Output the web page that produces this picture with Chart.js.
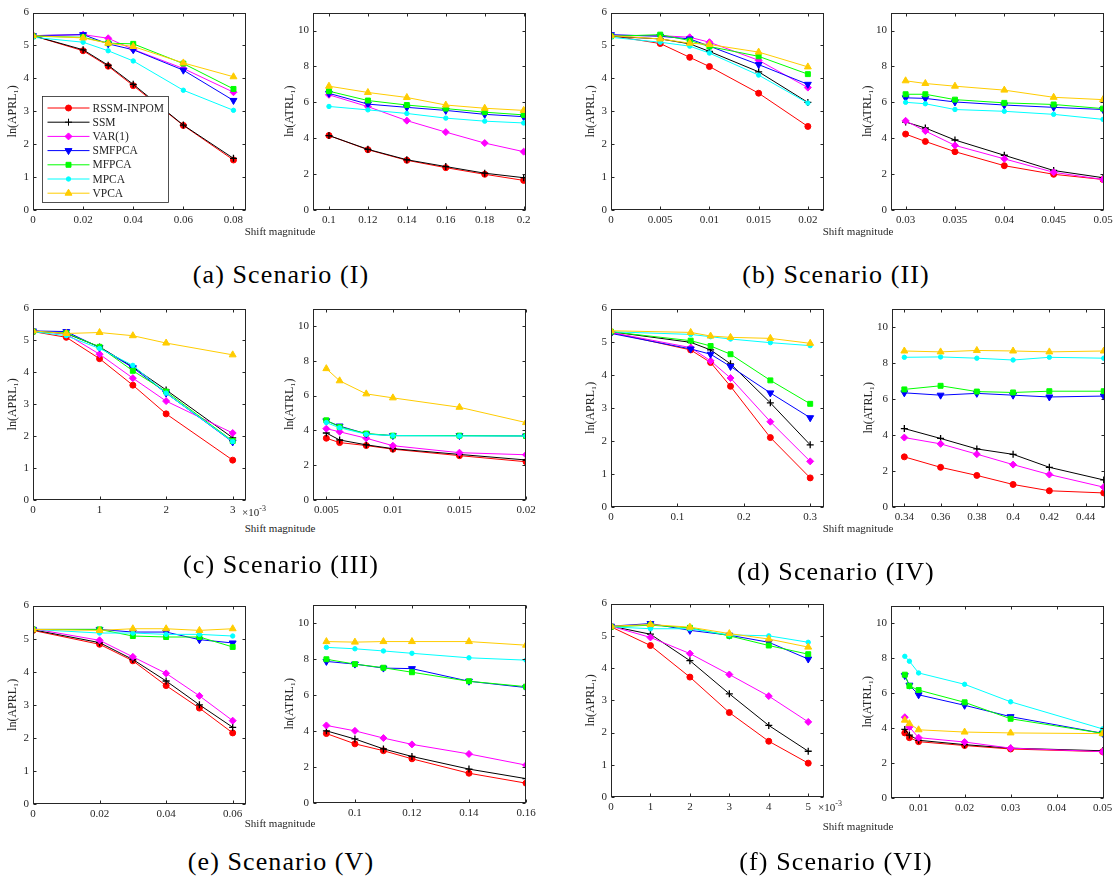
<!DOCTYPE html>
<html>
<head>
<meta charset="utf-8">
<script src="https://cdn.jsdelivr.net/npm/chart.js@4.4.1/dist/chart.umd.min.js"></script>
<style>
body { margin: 0; background: #fff; }
#page { position: relative; width: 1117px; height: 888px; overflow: hidden; font-family: 'Liberation Serif', serif; color: #262626; }
#page canvas { position: absolute; }
.xl { position: absolute; font-size: 11px; transform: translateX(-50%); white-space: nowrap; line-height: 1; }
.mult { position: absolute; font-size: 11px; white-space: nowrap; line-height: 1; }
.mult sup { font-size: 8px; }
.cap { position: absolute; font-size: 26px; letter-spacing: 1.1px; color: #000; transform: translateX(-50%); white-space: nowrap; line-height: 1; }
</style>
</head>
<body>
<div id="page"></div>
<script>
const methods = ['RSSM-INPOM', 'SSM', 'VAR(1)', 'SMFPCA', 'MFPCA', 'MPCA', 'VPCA'];
const colors = ['#ff0000', '#000000', '#ff00ff', '#0000ff', '#00ff00', '#00ffff', '#ffcc00'];
const markers = ['circle', 'cross', 'rectRot', 'triangle', 'rect', 'circle', 'triangle'];
const markerRot = [0, 0, 0, 180, 0, 0, 0];
const markerSize = [3, 3.5, 3.5, 4, 3.5, 2.2, 4];

const aprlTicks = [0, 1, 2, 3, 4, 5, 6];
const atrlTicks = [0, 2, 4, 6, 8, 10];

// Scenario (I)
const s1ShiftL = [0, 0.02, 0.03, 0.04, 0.06, 0.08];
const s1Aprl = [
  [5.30, 4.84, 4.37, 3.78, 2.57, 1.52],
  [5.30, 4.87, 4.40, 3.82, 2.58, 1.57],
  [5.30, 5.33, 5.22, 4.88, 4.30, 3.58],
  [5.30, 5.33, 5.05, 4.87, 4.25, 3.33],
  [5.28, 5.25, 5.07, 5.05, 4.45, 3.68],
  [5.25, 5.10, 4.84, 4.53, 3.64, 3.03],
  [5.30, 5.23, 5.07, 4.97, 4.47, 4.05]
];
const s1TicksL = [0, 0.02, 0.04, 0.06, 0.08];
const s1LabelsL = ['0', '0.02', '0.04', '0.06', '0.08'];
const s1ShiftR = [0.1, 0.12, 0.14, 0.16, 0.18, 0.2];
const s1Atrl = [
  [4.15, 3.36, 2.77, 2.36, 1.99, 1.65],
  [4.15, 3.38, 2.80, 2.42, 2.05, 1.80],
  [6.42, 5.76, 4.98, 4.34, 3.73, 3.25],
  [6.50, 5.90, 5.72, 5.55, 5.33, 5.20],
  [6.62, 6.10, 5.85, 5.65, 5.45, 5.30],
  [5.77, 5.58, 5.38, 5.12, 4.95, 4.85],
  [6.90, 6.55, 6.27, 5.85, 5.67, 5.55]
];
const s1TicksR = [0.1, 0.12, 0.14, 0.16, 0.18, 0.2];
const s1LabelsR = ['0.1', '0.12', '0.14', '0.16', '0.18', '0.2'];

// Scenario (II)
const s2ShiftL = [0, 0.005, 0.008, 0.01, 0.015, 0.02];
const s2Aprl = [
  [5.30, 5.06, 4.64, 4.36, 3.55, 2.54],
  [5.28, 5.20, 5.05, 4.82, 4.20, 3.27],
  [5.30, 5.30, 5.25, 5.10, 4.55, 3.72],
  [5.33, 5.28, 5.20, 4.98, 4.42, 3.82],
  [5.28, 5.33, 5.15, 4.97, 4.67, 4.13],
  [5.25, 5.10, 4.98, 4.77, 4.10, 3.25],
  [5.30, 5.20, 5.07, 5.03, 4.80, 4.35]
];
const s2TicksL = [0, 0.005, 0.01, 0.015, 0.02];
const s2LabelsL = ['0', '0.005', '0.01', '0.015', '0.02'];
const s2ShiftR = [0.03, 0.032, 0.035, 0.04, 0.045, 0.05];
const s2Atrl = [
  [4.23, 3.82, 3.25, 2.47, 1.99, 1.70],
  [4.90, 4.57, 3.90, 3.05, 2.20, 1.80],
  [4.97, 4.40, 3.60, 2.85, 2.10, 1.70],
  [6.25, 6.22, 6.02, 5.85, 5.72, 5.60],
  [6.45, 6.45, 6.15, 5.97, 5.88, 5.65],
  [6.00, 5.92, 5.60, 5.50, 5.33, 5.05],
  [7.20, 7.05, 6.90, 6.68, 6.28, 6.15]
];
const s2TicksR = [0.03, 0.035, 0.04, 0.045, 0.05];
const s2LabelsR = ['0.03', '0.035', '0.04', '0.045', '0.05'];

// Scenario (III)
const s3ShiftL = [0, 0.0005, 0.001, 0.0015, 0.002, 0.003];
const s3Aprl = [
  [5.28, 5.10, 4.43, 3.60, 2.70, 1.25],
  [5.30, 5.22, 4.80, 4.17, 3.45, 1.95],
  [5.30, 5.20, 4.57, 3.82, 3.10, 2.10],
  [5.30, 5.28, 4.78, 4.15, 3.35, 1.82],
  [5.28, 5.23, 4.80, 4.05, 3.40, 1.85],
  [5.28, 5.15, 4.75, 4.22, 3.35, 1.83],
  [5.30, 5.22, 5.25, 5.15, 4.92, 4.55]
];
const s3TicksL = [0, 0.001, 0.002, 0.003];
const s3LabelsL = ['0', '1', '2', '3'];
const s3ShiftR = [0.005, 0.006, 0.008, 0.01, 0.015, 0.02];
const s3Atrl = [
  [3.55, 3.30, 3.13, 2.92, 2.55, 2.20],
  [3.85, 3.45, 3.17, 2.95, 2.62, 2.30],
  [4.10, 3.92, 3.55, 3.12, 2.72, 2.60],
  [4.55, 4.25, 3.80, 3.70, 3.70, 3.68],
  [4.58, 4.20, 3.82, 3.70, 3.70, 3.68],
  [4.45, 4.15, 3.78, 3.70, 3.68, 3.68],
  [7.55, 6.85, 6.10, 5.87, 5.33, 4.45]
];
const s3TicksR = [0.005, 0.01, 0.015, 0.02];
const s3LabelsR = ['0.005', '0.01', '0.015', '0.02'];

// Scenario (IV)
const s4ShiftL = [0, 0.12, 0.15, 0.18, 0.24, 0.3];
const s4Aprl = [
  [5.28, 4.75, 4.37, 3.65, 2.10, 0.88],
  [5.30, 4.98, 4.75, 4.33, 3.15, 1.88],
  [5.28, 4.82, 4.42, 3.90, 2.58, 1.38],
  [5.25, 4.78, 4.62, 4.25, 3.45, 2.70],
  [5.30, 5.03, 4.87, 4.62, 3.83, 3.12],
  [5.30, 5.22, 5.15, 5.08, 4.97, 4.88],
  [5.33, 5.28, 5.17, 5.13, 5.10, 4.95]
];
const s4TicksL = [0, 0.1, 0.2, 0.3];
const s4LabelsL = ['0', '0.1', '0.2', '0.3'];
const s4ShiftR = [0.34, 0.36, 0.38, 0.4, 0.42, 0.45];
const s4Atrl = [
  [2.78, 2.20, 1.75, 1.25, 0.90, 0.78],
  [4.35, 3.80, 3.22, 2.92, 2.20, 1.50],
  [3.85, 3.50, 2.93, 2.35, 1.80, 1.10],
  [6.33, 6.20, 6.30, 6.20, 6.10, 6.15],
  [6.52, 6.72, 6.40, 6.35, 6.42, 6.42],
  [8.30, 8.32, 8.25, 8.15, 8.30, 8.25],
  [8.65, 8.60, 8.68, 8.65, 8.60, 8.65]
];
const s4TicksR = [0.34, 0.36, 0.38, 0.4, 0.42, 0.44];
const s4LabelsR = ['0.34', '0.36', '0.38', '0.4', '0.42', '0.44'];

// Scenario (V)
const s5ShiftL = [0, 0.02, 0.03, 0.04, 0.05, 0.06];
const s5Aprl = [
  [5.25, 4.83, 4.33, 3.58, 2.90, 2.15],
  [5.27, 4.88, 4.37, 3.72, 3.00, 2.32],
  [5.30, 4.95, 4.45, 3.95, 3.27, 2.52],
  [5.28, 5.28, 5.20, 5.20, 4.97, 4.87],
  [5.28, 5.28, 5.08, 5.05, 5.05, 4.75],
  [5.28, 5.17, 5.17, 5.13, 5.13, 5.08],
  [5.28, 5.25, 5.30, 5.30, 5.25, 5.30]
];
const s5TicksL = [0, 0.02, 0.04, 0.06];
const s5LabelsL = ['0', '0.02', '0.04', '0.06'];
const s5ShiftR = [0.09, 0.1, 0.11, 0.12, 0.14, 0.16];
const s5Atrl = [
  [3.85, 3.28, 2.90, 2.45, 1.65, 1.10],
  [4.00, 3.55, 3.00, 2.58, 1.88, 1.35],
  [4.30, 4.00, 3.60, 3.25, 2.72, 2.10],
  [7.85, 7.70, 7.48, 7.45, 6.75, 6.40],
  [7.97, 7.70, 7.50, 7.25, 6.75, 6.45],
  [8.63, 8.55, 8.43, 8.30, 8.05, 7.92],
  [8.95, 8.92, 8.95, 8.95, 8.95, 8.75]
];
const s5TicksR = [0.1, 0.12, 0.14, 0.16];
const s5LabelsR = ['0.1', '0.12', '0.14', '0.16'];

// Scenario (VI)
const s6ShiftL = [0, 0.001, 0.002, 0.003, 0.004, 0.005];
const s6Aprl = [
  [5.28, 4.70, 3.72, 2.62, 1.73, 1.05],
  [5.30, 5.05, 4.23, 3.20, 2.22, 1.42],
  [5.30, 4.95, 4.45, 3.80, 3.13, 2.33],
  [5.30, 5.38, 5.17, 5.02, 4.80, 4.28],
  [5.28, 5.33, 5.25, 5.00, 4.70, 4.43],
  [5.28, 5.22, 5.22, 5.03, 5.00, 4.80],
  [5.30, 5.35, 5.27, 5.07, 4.90, 4.65]
];
const s6TicksL = [0, 0.001, 0.002, 0.003, 0.004, 0.005];
const s6LabelsL = ['0', '1', '2', '3', '4', '5'];
const s6ShiftR = [0.007, 0.008, 0.01, 0.02, 0.03, 0.05];
const s6Atrl = [
  [3.72, 3.45, 3.22, 3.00, 2.80, 2.65],
  [3.92, 3.60, 3.30, 3.05, 2.85, 2.70],
  [4.62, 4.05, 3.45, 3.20, 2.85, 2.65],
  [7.00, 6.45, 5.90, 5.30, 4.65, 3.70],
  [7.05, 6.40, 6.17, 5.47, 4.53, 3.70],
  [8.10, 7.82, 7.15, 6.50, 5.50, 3.95],
  [4.45, 4.25, 3.90, 3.77, 3.72, 3.68]
];
const s6TicksR = [0.01, 0.02, 0.03, 0.04, 0.05];
const s6LabelsR = ['0.01', '0.02', '0.03', '0.04', '0.05'];

const FONT = "'Liberation Serif', 'Times New Roman', serif";
const INK = '#262626';

// draws the MATLAB style box with inward ticks on all four sides
const boxPlugin = {
  id: 'matlabBox',
  afterDatasetsDraw(chart) {
    const { ctx, chartArea: a, scales } = chart;
    ctx.save();
    ctx.strokeStyle = INK;
    ctx.lineWidth = 1;
    const L = Math.round(a.left) + 0.5, R = Math.round(a.right) - 0.5;
    const T = Math.round(a.top) + 0.5, B = Math.round(a.bottom) - 0.5;
    ctx.strokeRect(L, T, R - L, B - T);
    ctx.beginPath();
    scales.x.ticks.forEach(t => {
      const px = Math.round(scales.x.getPixelForValue(t.value)) + 0.5;
      ctx.moveTo(px, B); ctx.lineTo(px, B - 3);
      ctx.moveTo(px, T); ctx.lineTo(px, T + 3);
    });
    scales.y.ticks.forEach(t => {
      const py = Math.round(scales.y.getPixelForValue(t.value)) + 0.5;
      ctx.moveTo(L, py); ctx.lineTo(L + 3, py);
      ctx.moveTo(R, py); ctx.lineTo(R - 3, py);
    });
    ctx.stroke();
    ctx.restore();
  }
};

// legend box drawn inside the plot area (only on the first panel)
const legendPlugin = {
  id: 'boxLegend',
  afterDraw(chart, args, opts) {
    if (!opts.show) return;
    const { ctx, chartArea: a } = chart;
    const bx = Math.round(a.left + 9) + 0.5, by = Math.round(a.top + 83) + 0.5;
    const bw = 126, bh = 106;
    ctx.save();
    ctx.fillStyle = '#fff';
    ctx.fillRect(bx, by, bw, bh);
    ctx.strokeStyle = INK;
    ctx.lineWidth = 0.8;
    ctx.strokeRect(bx, by, bw, bh);
    ctx.font = '11.5px ' + FONT;
    ctx.textBaseline = 'middle';
    chart.data.datasets.forEach((ds, i) => {
      const y = by + 11.5 + i * 14.2;
      ctx.strokeStyle = ds.borderColor;
      ctx.lineWidth = 1;
      ctx.beginPath();
      ctx.moveTo(bx + 5, y); ctx.lineTo(bx + 47, y);
      ctx.stroke();
      ctx.fillStyle = ds.pointBackgroundColor;
      ctx.strokeStyle = ds.pointBorderColor;
      Chart.helpers.drawPoint(ctx, {
        pointStyle: ds.pointStyle, rotation: ds.pointRotation,
        radius: ds.pointRadius, borderWidth: ds.pointBorderWidth
      }, bx + 26, y);
      ctx.fillStyle = INK;
      ctx.fillText(ds.label, bx + 50, y + 0.5);
    });
    ctx.restore();
  }
};

function makeDatasets(xs, rows) {
  return rows.map((vals, i) => ({
    label: methods[i],
    data: xs.map((x, j) => ({ x: x, y: vals[j] })),
    borderColor: colors[i],
    backgroundColor: colors[i],
    borderWidth: 1,
    pointStyle: markers[i],
    pointRotation: markerRot[i],
    pointRadius: markerSize[i],
    pointBackgroundColor: colors[i],
    pointBorderColor: colors[i],
    pointBorderWidth: markers[i] === 'cross' ? 1.3 : 1,
    tension: 0,
    order: rows.length - i
  }));
}

function makePanel(p) {
  const yW = p.yW, padT = 10, padR = 16, xH = 20;
  const canvas = document.createElement('canvas');
  canvas.width = Math.round(yW + p.w + padR);
  canvas.height = Math.round(padT + p.h + xH);
  canvas.style.left = Math.round(p.left - yW) + 'px';
  canvas.style.top = Math.round(p.top - padT) + 'px';
  document.getElementById('page').appendChild(canvas);
  new Chart(canvas, {
    type: 'line',
    data: { datasets: makeDatasets(p.xs, p.rows) },
    options: {
      responsive: false,
      animation: false,
      layout: { padding: { left: 0, top: padT, right: padR, bottom: 0 } },
      plugins: { legend: { display: false }, tooltip: { enabled: false }, boxLegend: { show: !!p.legend } },
      scales: {
        x: {
          type: 'linear', min: p.xMin, max: p.xMax,
          afterBuildTicks: s => { s.ticks = p.xTicks.map(v => ({ value: v })); },
          afterFit: s => { s.height = xH; },
          grid: { display: false, drawTicks: false },
          border: { display: false },
          ticks: { autoSkip: false, maxRotation: 0, padding: 4, color: INK,
            font: { family: FONT, size: 11 }, callback: (v, i) => p.xLabels[i] }
        },
        y: {
          min: 0, max: p.yMax,
          afterBuildTicks: s => { s.ticks = p.yTicks.map(v => ({ value: v })); },
          afterFit: s => { s.width = yW; },
          grid: { display: false, drawTicks: false },
          border: { display: false },
          title: { display: true, text: p.yTitle, color: INK, padding: 0, font: { family: FONT, size: 12 } },
          ticks: { padding: 4, color: INK, font: { family: FONT, size: 11 } }
        }
      }
    },
    plugins: [boxPlugin, legendPlugin]
  });
}

const APRL = 'ln(APRL\u2081)', ATRL = 'ln(ATRL\u2081)';
const panels = [
  { left: 33.3, top: 11.7, w: 213.4, h: 198.3, yW: 27, xs: s1ShiftL, rows: s1Aprl, xMin: 0, xMax: 0.085, xTicks: s1TicksL, xLabels: s1LabelsL, yMax: 6, yTicks: aprlTicks, yTitle: APRL, legend: true },
  { left: 313.3, top: 11.7, w: 213.4, h: 198.3, yW: 30, xs: s1ShiftR, rows: s1Atrl, xMin: 0.0918, xMax: 0.2012, xTicks: s1TicksR, xLabels: s1LabelsR, yMax: 11, yTicks: atrlTicks, yTitle: ATRL },
  { left: 611, top: 11.7, w: 213.4, h: 198.3, yW: 27, xs: s2ShiftL, rows: s2Aprl, xMin: 0, xMax: 0.02164, xTicks: s2TicksL, xLabels: s2LabelsL, yMax: 6, yTicks: aprlTicks, yTitle: APRL },
  { left: 890.7, top: 11.7, w: 213, h: 198.3, yW: 30, xs: s2ShiftR, rows: s2Atrl, xMin: 0.02852, xMax: 0.0501, xTicks: s2TicksR, xLabels: s2LabelsR, yMax: 11, yTicks: atrlTicks, yTitle: ATRL },
  { left: 33.3, top: 308, w: 213.4, h: 192, yW: 27, xs: s3ShiftL, rows: s3Aprl, xMin: 0, xMax: 0.0032, xTicks: s3TicksL, xLabels: s3LabelsL, yMax: 6, yTicks: aprlTicks, yTitle: APRL },
  { left: 313.3, top: 308, w: 213.4, h: 192, yW: 30, xs: s3ShiftR, rows: s3Atrl, xMin: 0.004, xMax: 0.02, xTicks: s3TicksR, xLabels: s3LabelsR, yMax: 11, yTicks: atrlTicks, yTitle: ATRL },
  { left: 611, top: 307.5, w: 213, h: 199, yW: 27, xs: s4ShiftL, rows: s4Aprl, xMin: 0, xMax: 0.3208, xTicks: s4TicksL, xLabels: s4LabelsL, yMax: 6, yTicks: aprlTicks, yTitle: APRL },
  { left: 891.7, top: 308, w: 213, h: 198.5, yW: 30, xs: s4ShiftR, rows: s4Atrl, xMin: 0.3332, xMax: 0.4507, xTicks: s4TicksR, xLabels: s4LabelsR, yMax: 11, yTicks: atrlTicks, yTitle: ATRL },
  { left: 33.3, top: 604.6, w: 213.4, h: 198.7, yW: 27, xs: s5ShiftL, rows: s5Aprl, xMin: 0, xMax: 0.064, xTicks: s5TicksL, xLabels: s5LabelsL, yMax: 6, yTicks: aprlTicks, yTitle: APRL },
  { left: 313.3, top: 604.4, w: 213.4, h: 198.9, yW: 30, xs: s5ShiftR, rows: s5Atrl, xMin: 0.0853, xMax: 0.16, xTicks: s5TicksR, xLabels: s5LabelsR, yMax: 11, yTicks: atrlTicks, yTitle: ATRL },
  { left: 611, top: 603.4, w: 213, h: 193.9, yW: 27, xs: s6ShiftL, rows: s6Aprl, xMin: 0, xMax: 0.0054, xTicks: s6TicksL, xLabels: s6LabelsL, yMax: 6, yTicks: aprlTicks, yTitle: APRL },
  { left: 890.7, top: 604.8, w: 213, h: 192.5, yW: 30, xs: s6ShiftR, rows: s6Atrl, xMin: 0.004, xMax: 0.0503, xTicks: s6TicksR, xLabels: s6LabelsR, yMax: 11, yTicks: atrlTicks, yTitle: ATRL }
];
panels.forEach(makePanel);

// axis labels, exponent labels and captions
const page = document.getElementById('page');
function addText(cls, html, x, y) {
  const d = document.createElement('div');
  d.className = cls;
  d.innerHTML = html;
  d.style.left = x + 'px';
  d.style.top = y + 'px';
  page.appendChild(d);
}
[[280, 226], [858, 226], [280, 523], [858, 523], [280, 818], [858, 821]].forEach(([x, y]) => addText('xl', 'Shift magnitude', x, y));
addText('mult', '\u00d710<sup>-3</sup>', 242, 505);
addText('mult', '\u00d710<sup>-3</sup>', 818, 800);
const captions = ['(a) Scenario (I)', '(b) Scenario (II)', '(c) Scenario (III)', '(d) Scenario (IV)', '(e) Scenario (V)', '(f) Scenario (VI)'];
const capPos = [[281, 262], [836, 262], [281, 552], [836, 559], [281, 849], [836, 849]];
captions.forEach((c, i) => addText('cap', c, capPos[i][0], capPos[i][1]));
</script>
</body>
</html>
